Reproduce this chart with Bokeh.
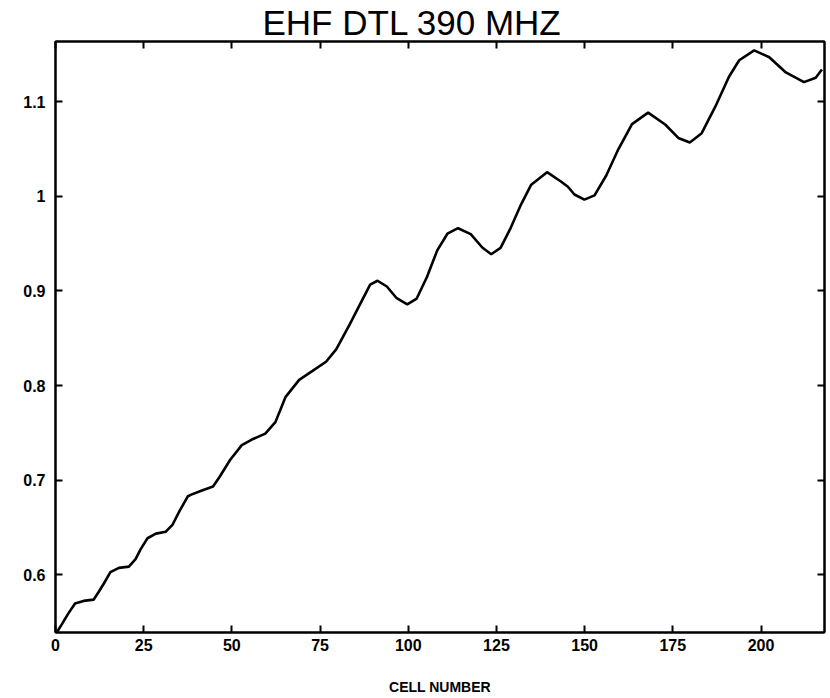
from bokeh.plotting import figure
from bokeh.models import Range1d, LinearAxis, FixedTicker, Title
from bokeh.embed import file_html
from bokeh.resources import INLINE

# values
cell = [0.49, 0.78, 1.73, 3.65, 5.55, 7.95, 10.79, 12.22, 13.67, 15.57,
        17.97, 20.80, 22.70, 24.15, 26.08, 28.45, 31.28, 33.21, 35.14, 37.54,
        38.48, 41.33, 44.66, 46.59, 49.48, 52.81, 55.66, 59.47, 62.34, 65.24,
        69.08, 72.87, 76.69, 79.57, 83.41, 87.26, 89.20, 91.29, 93.93, 96.73,
        99.72, 102.40, 105.30, 108.22, 111.10, 114.12, 117.71, 120.98, 123.51, 126.17,
        129.05, 131.96, 134.86, 139.35, 143.37, 145.26, 147.11, 149.93, 152.81, 156.13,
        159.59, 163.43, 168.00, 172.83, 176.56, 179.83, 183.19, 187.04, 190.92, 193.82,
        198.08, 202.34, 207.05, 212.19, 215.52, 217.27]
beam = [0.540, 0.5417, 0.5473, 0.5592, 0.5697, 0.5724, 0.5737, 0.5818, 0.5905, 0.6028,
        0.6073, 0.6086, 0.6166, 0.6271, 0.6386, 0.6435, 0.6455, 0.6531, 0.6672, 0.6830,
        0.6847, 0.6888, 0.6933, 0.7038, 0.7213, 0.7370, 0.7429, 0.7491, 0.7613, 0.7880,
        0.8060, 0.8155, 0.8251, 0.8382, 0.8645, 0.8926, 0.9066, 0.9107, 0.9046, 0.8922,
        0.8857, 0.8919, 0.9147, 0.9428, 0.9604, 0.9662, 0.9600, 0.9458, 0.9387, 0.9455,
        0.9666, 0.9912, 1.0122, 1.0254, 1.0153, 1.0100, 1.0018, 0.9964, 1.0009, 1.0219,
        1.0499, 1.0762, 1.0884, 1.0758, 1.0616, 1.0568, 1.0666, 1.0946, 1.1262, 1.1437,
        1.1541, 1.1469, 1.1308, 1.1206, 1.1252, 1.1339]

x_ticks = [0, 25, 50, 75, 100, 125, 150, 175, 200]
y_ticks = [0.6, 0.7, 0.8, 0.9, 1.0, 1.1]
y_tick_labels = ["0.6", "0.7", "0.8", "0.9", "1", "1.1"]

title_text = "EHF DTL 390 MHZ"
x_label_text = "CELL NUMBER"

FONT = "Liberation Sans"

p = figure(width=828, height=698, output_backend="svg", toolbar_location=None,
           x_range=Range1d(0, 218), y_range=Range1d(0.539, 1.1635),
           min_border_left=55, min_border_right=4, min_border_top=41, min_border_bottom=66,
           x_axis_location=None, y_axis_location=None)
p.grid.visible = False
p.outline_line_color = "black"
p.outline_line_width = 2
p.background_fill_color = "white"
p.border_fill_color = "white"

def style_axis(ax, ticks, show_labels):
    ax.ticker = FixedTicker(ticks=ticks)
    ax.axis_line_color = "black"
    ax.axis_line_width = 2
    ax.major_tick_line_color = "black"
    ax.major_tick_line_width = 2
    ax.major_tick_in = 7
    ax.major_tick_out = 0
    ax.minor_tick_line_color = None
    if show_labels:
        ax.major_label_text_font = FONT
        ax.major_label_text_font_style = "bold"
        ax.major_label_text_font_size = "16px"
        ax.major_label_text_color = "black"
    else:
        ax.major_label_overrides = {t: "" for t in ticks}
        ax.major_label_standoff = 0

bottom = LinearAxis()
style_axis(bottom, x_ticks, True)
bottom.major_label_standoff = 6
bottom.axis_label = x_label_text
bottom.axis_label_text_font = FONT
bottom.axis_label_text_font_style = "bold"
bottom.axis_label_text_font_size = "14px"
bottom.axis_label_text_color = "black"
bottom.axis_label_standoff = 25
p.add_layout(bottom, "below")

left = LinearAxis()
style_axis(left, y_ticks, True)
left.major_label_standoff = 10
left.major_label_overrides = {t: s for t, s in zip(y_ticks, y_tick_labels)}
p.add_layout(left, "left")

top = LinearAxis()
style_axis(top, x_ticks, False)
p.add_layout(top, "above")

right = LinearAxis()
style_axis(right, y_ticks, False)
p.add_layout(right, "right")

p.line(cell, beam, line_color="black", line_width=2.6)

p.add_layout(Title(text=title_text, align="left", text_font=FONT,
                   text_font_size="35px", text_font_style="normal",
                   text_color="black", standoff=0, offset=207), "above")

open("out.html", "w").write(file_html(p, INLINE))
